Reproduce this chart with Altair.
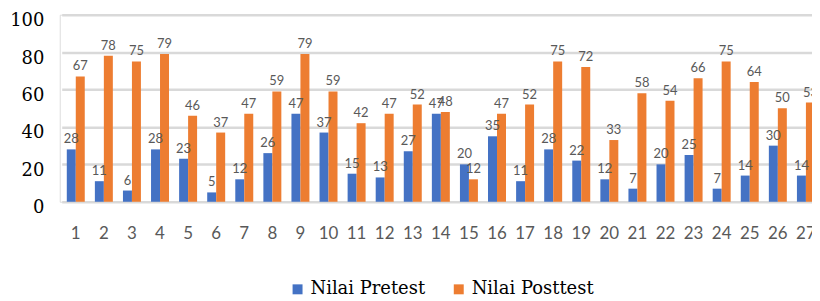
import altair as alt
import pandas as pd

categories = [str(i) for i in range(1, 28)]
pretest = [28, 11, 6, 28, 23, 5, 12, 26, 47, 37, 15, 13, 27, 47, 20, 35, 11, 28, 22, 12, 7, 20, 25, 7, 14, 30, 14]
posttest = [67, 78, 75, 79, 46, 37, 47, 59, 79, 59, 42, 47, 52, 48, 12, 47, 52, 75, 72, 33, 58, 54, 66, 75, 64, 50, 53]
series_names = ["Nilai Pretest", "Nilai Posttest"]
colors = ["#4472C4", "#ED7D31"]
y_ticks = [0, 20, 40, 60, 80, 100]

SERIF = "DejaVu Serif"

rows = []
for c, a, b in zip(categories, pretest, posttest):
    rows.append({"No": c, "Seri": series_names[0], "Nilai": a})
    rows.append({"No": c, "Seri": series_names[1], "Nilai": b})
df = pd.DataFrame(rows)

x = alt.X(
    "No:N", sort=categories,
    scale=alt.Scale(range=[2, 764], paddingInner=0.36, paddingOuter=0.18),
    axis=alt.Axis(title=None, labelAngle=0, domain=False, ticks=False,
                  labelFont="Lato", labelFontSize=17, labelColor="#595959",
                  labelPadding=24, grid=False),
)
xoff = alt.XOffset("Seri:N", sort=series_names,
                   scale=alt.Scale(paddingInner=0, paddingOuter=0))
y = alt.Y(
    "Nilai:Q",
    scale=alt.Scale(domain=[0, 100], nice=False),
    axis=alt.Axis(title=None, values=y_ticks, domain=False, ticks=False,
                  labelFont=SERIF, labelFontSize=18, labelColor="#000000",
                  labelPadding=16, labelOffset=6, gridColor="#d9d9d9", gridWidth=2.5),
)
color = alt.Color(
    "Seri:N", sort=series_names,
    scale=alt.Scale(domain=series_names, range=colors),
    legend=alt.Legend(title=None, orient="none", legendX=230, legendY=267,
                      direction="horizontal", symbolType="square", symbolSize=100,
                      symbolStrokeWidth=0, labelFont=SERIF, labelFontSize=18,
                      labelColor="#000000", labelOffset=4, columnPadding=24),
)

base = alt.Chart(df)
bars = base.mark_bar().encode(x=x, xOffset=xoff, y=y, color=color)
labels = base.mark_text(dy=-10, font="Lato", fontSize=13, color="#595959").encode(
    x=x, xOffset=xoff, y=y, text="Nilai:Q"
)

chart = (bars + labels).properties(
    width=756, height=188,
    autosize=alt.AutoSizeParams(type="none"),
    padding={"left": 52, "top": 6, "right": 0, "bottom": 99},
).configure_view(stroke=None).configure(background="#ffffff")

chart.save("out.html", embed_options={"renderer": "svg", "actions": False})
